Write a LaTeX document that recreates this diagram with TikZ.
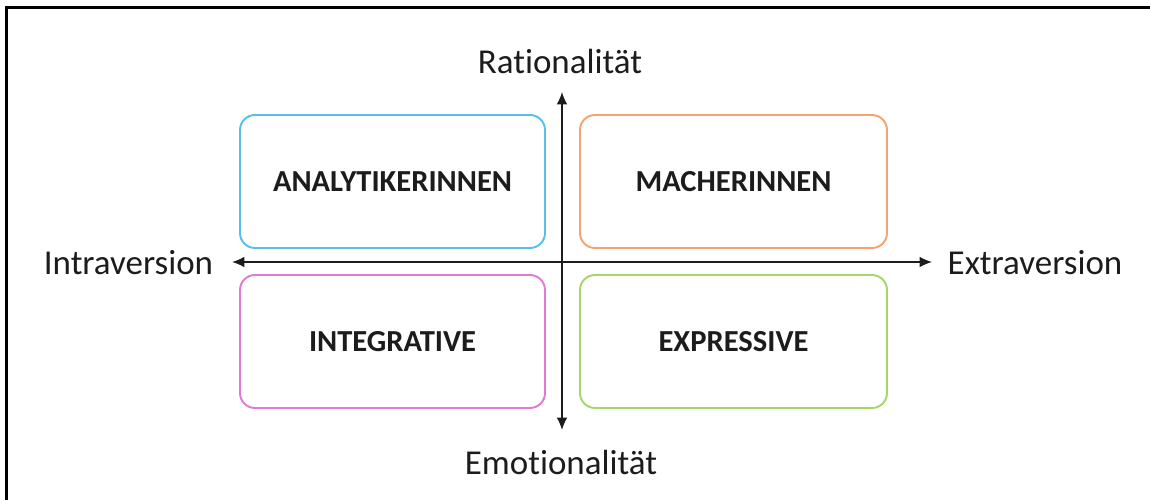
\documentclass[tikz,border=0pt]{standalone}
\usepackage{fontspec}
\setmainfont[Ligatures=NoCommon]{Carlito}
\usetikzlibrary{arrows.meta}
\definecolor{boxblue}{RGB}{88,190,238}
\definecolor{boxorange}{RGB}{244,164,112}
\definecolor{boxpink}{RGB}{224,122,214}
\definecolor{boxgreen}{RGB}{164,214,110}
\definecolor{ink}{RGB}{28,28,28}
\tikzset{
  quadbox/.style={draw, rounded corners=15*0.02cm, line width=1.1pt,
    minimum width=#1, minimum height=133*0.02cm, inner sep=0pt,
    font=\fontsize{17.4}{20}\selectfont\bfseries, text=ink},
  axislabel/.style={font=\fontsize{19.9}{24}\selectfont, text=ink, inner sep=0pt},
  axis/.style={line width=0.8pt, draw=ink, {Latex[length=7pt,width=6pt]}-{Latex[length=7pt,width=6pt]}}
}
\begin{document}
\begin{tikzpicture}[x=0.02cm, y=-0.02cm]
  \useasboundingbox (0,0) rectangle (1150,500);
  % outer frame, open towards the lower right
  \draw[line width=1.4pt, black] (6.5,520) -- (6.5,7.5) -- (1170,7.5);

  % quadrants
  \node[quadbox=305*0.02cm, draw=boxblue]   (ana) at (392.5,181.5) {ANALYTIKERINNEN};
  \node[quadbox=307*0.02cm, draw=boxorange] (mac) at (733.5,181.5) {MACHERINNEN};
  \node[quadbox=305*0.02cm, draw=boxpink]   (int) at (392.5,341.5) {INTEGRATIVE};
  \node[quadbox=307*0.02cm, draw=boxgreen]  (exp) at (733.5,341.5) {EXPRESSIVE};

  % axis labels
  \node[axislabel] (rat) at (560,61)   {Rationalität};
  \node[axislabel] (emo) at (561,462)  {Emotionalität};
  \node[axislabel] (intra) at (128.5,263) {Intraversion};
  \node[axislabel] (extra) at (1035,263)  {Extraversion};

  % axis end points
  \coordinate (top) at (562,92);
  \coordinate (bot) at (562,430);
  \coordinate (lft) at (232,262);
  \coordinate (rgt) at (932,262);

  \draw[axis] (bot) -- (top);
  \draw[axis] (lft) -- (rgt);
\end{tikzpicture}
\end{document}
